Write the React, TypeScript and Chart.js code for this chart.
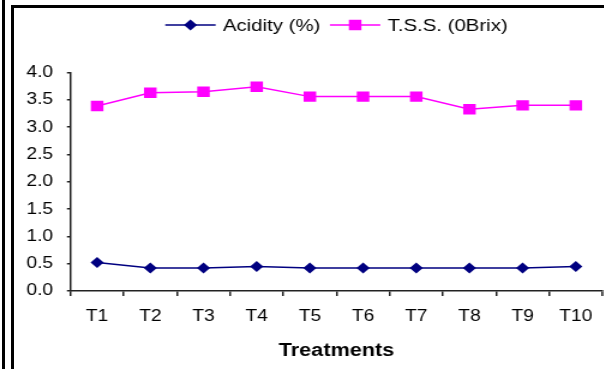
import React, { useEffect, useRef } from "react";
import { Chart, registerables } from "chart.js";

Chart.register(...registerables);

const categories = ["T1", "T2", "T3", "T4", "T5", "T6", "T7", "T8", "T9", "T10"];
const acidity = [0.52, 0.42, 0.42, 0.45, 0.42, 0.42, 0.42, 0.42, 0.42, 0.45];
const tss = [3.39, 3.63, 3.65, 3.74, 3.56, 3.56, 3.56, 3.33, 3.4, 3.4];
const seriesLabels = ["Acidity (%)", "T.S.S. (0Brix)"];
const yMin = 0;
const yMax = 4;
const yStep = 0.5;
const xTitle = "Treatments";

const SX = 1.2;
const W = 604;
const H = 369;
const CW = 503;
const FONT = '"Liberation Sans", Arial, Helvetica, sans-serif';

function drawMarker(ctx: CanvasRenderingContext2D, style: string, r: number, x: number, y: number, color: string) {
  ctx.fillStyle = color;
  ctx.beginPath();
  if (style === "rectRot") {
    ctx.moveTo(x, y - r);
    ctx.lineTo(x + r, y);
    ctx.lineTo(x, y + r);
    ctx.lineTo(x - r, y);
    ctx.closePath();
  } else {
    const s = Math.SQRT1_2 * r;
    ctx.rect(x - s, y - s, 2 * s, 2 * s);
  }
  ctx.fill();
}

const overlay = {
  id: "overlay",
  afterDraw(chart: any) {
    const ctx: CanvasRenderingContext2D = chart.ctx;
    const ca = chart.chartArea;
    const cx = (ca.left + ca.right) / 2;
    ctx.save();
    ctx.font = `17px ${FONT}`;
    const lineLen = 42;
    const gapText = 6;
    const gapItems = 8;
    const items = chart.data.datasets.map((ds: any) => ({
      ds,
      w: lineLen + gapText + ctx.measureText(ds.label).width,
    }));
    const total = items.reduce((a: number, it: any) => a + it.w, 0) + gapItems * (items.length - 1);
    let x = cx - total / 2;
    const y = 25;
    items.forEach(({ ds, w }: any) => {
      ctx.strokeStyle = ds.borderColor;
      ctx.lineWidth = 1.5;
      ctx.beginPath();
      ctx.moveTo(x, y);
      ctx.lineTo(x + lineLen, y);
      ctx.stroke();
      drawMarker(ctx, ds.pointStyle, ds.pointRadius, x + lineLen / 2, y, ds.pointBackgroundColor);
      ctx.fillStyle = "#000";
      ctx.textAlign = "left";
      ctx.textBaseline = "middle";
      ctx.fillText(ds.label, x + lineLen + gapText, y + 1);
      x += w + gapItems;
    });
    ctx.font = `bold 18px ${FONT}`;
    ctx.textAlign = "center";
    ctx.textBaseline = "middle";
    ctx.fillStyle = "#000";
    ctx.fillText(xTitle, cx, 351);
    ctx.restore();
  },
};

export default function App() {
  const ref = useRef<HTMLCanvasElement | null>(null);
  useEffect(() => {
    if (!ref.current) return;
    const chart = new Chart(ref.current, {
      type: "line",
      data: {
        labels: categories,
        datasets: [
          {
            label: seriesLabels[0],
            data: acidity,
            borderColor: "#000080",
            backgroundColor: "#000080",
            pointBackgroundColor: "#000080",
            pointBorderColor: "#000080",
            pointStyle: "rectRot",
            pointRadius: 5.5,
            pointBorderWidth: 0,
            borderWidth: 1.5,
            tension: 0,
          } as any,
          {
            label: seriesLabels[1],
            data: tss,
            borderColor: "#FF00FF",
            backgroundColor: "#FF00FF",
            pointBackgroundColor: "#FF00FF",
            pointBorderColor: "#FF00FF",
            pointStyle: "rect",
            pointRadius: 7.4,
            pointBorderWidth: 0,
            borderWidth: 1.5,
            tension: 0,
          } as any,
        ],
      },
      options: {
        animation: false,
        responsive: false,
        devicePixelRatio: 1,
        layout: { autoPadding: false, padding: { top: 72.6, left: 0, right: 1, bottom: 0 } },
        plugins: { legend: { display: false }, title: { display: false }, tooltip: { enabled: false } },
        scales: {
          x: {
            type: "category",
            offset: true,
            grid: { offset: true, drawOnChartArea: false, drawTicks: true, tickLength: 5, color: "#222", lineWidth: 1.5 },
            border: { display: true, color: "#222", width: 1.5 },
            ticks: { color: "#000", font: { family: FONT, size: 16 }, padding: 11, maxRotation: 0, autoSkip: false },
            afterFit: (s: any) => {
              s.height = H - 291;
              s.paddingLeft = 0;
              s.paddingRight = 0;
            },
          },
          y: {
            min: yMin,
            max: yMax,
            grid: { drawOnChartArea: false, drawTicks: true, tickLength: 3, color: "#222", lineWidth: 1.5 },
            border: { display: true, color: "#222", width: 1.5 },
            ticks: {
              stepSize: yStep,
              color: "#000",
              font: { family: FONT, size: 16 },
              padding: 11.5,
              callback: (v: any) => Number(v).toFixed(1),
            },
            afterFit: (s: any) => {
              s.width = 58.75;
              s.paddingTop = 0;
              s.paddingBottom = 0;
            },
          },
        },
      },
      plugins: [overlay],
    });
    return () => chart.destroy();
  }, []);

  return (
    <div style={{ position: "fixed", left: 0, top: 0, width: W, height: H, overflow: "hidden", background: "#fff" }}>
      <canvas
        ref={ref}
        width={CW}
        height={H}
        style={{ position: "absolute", left: 0, top: 0, transform: `scaleX(${SX})`, transformOrigin: "0 0" }}
      />
      <div style={{ position: "absolute", left: 2, top: 0, width: 3, height: H, background: "#000" }} />
      <div style={{ position: "absolute", left: 10.5, top: 5, width: 3, height: H - 5, background: "#000" }} />
      <div style={{ position: "absolute", left: 10.5, top: 5, width: W - 10.5, height: 3, background: "#000" }} />
    </div>
  );
}
